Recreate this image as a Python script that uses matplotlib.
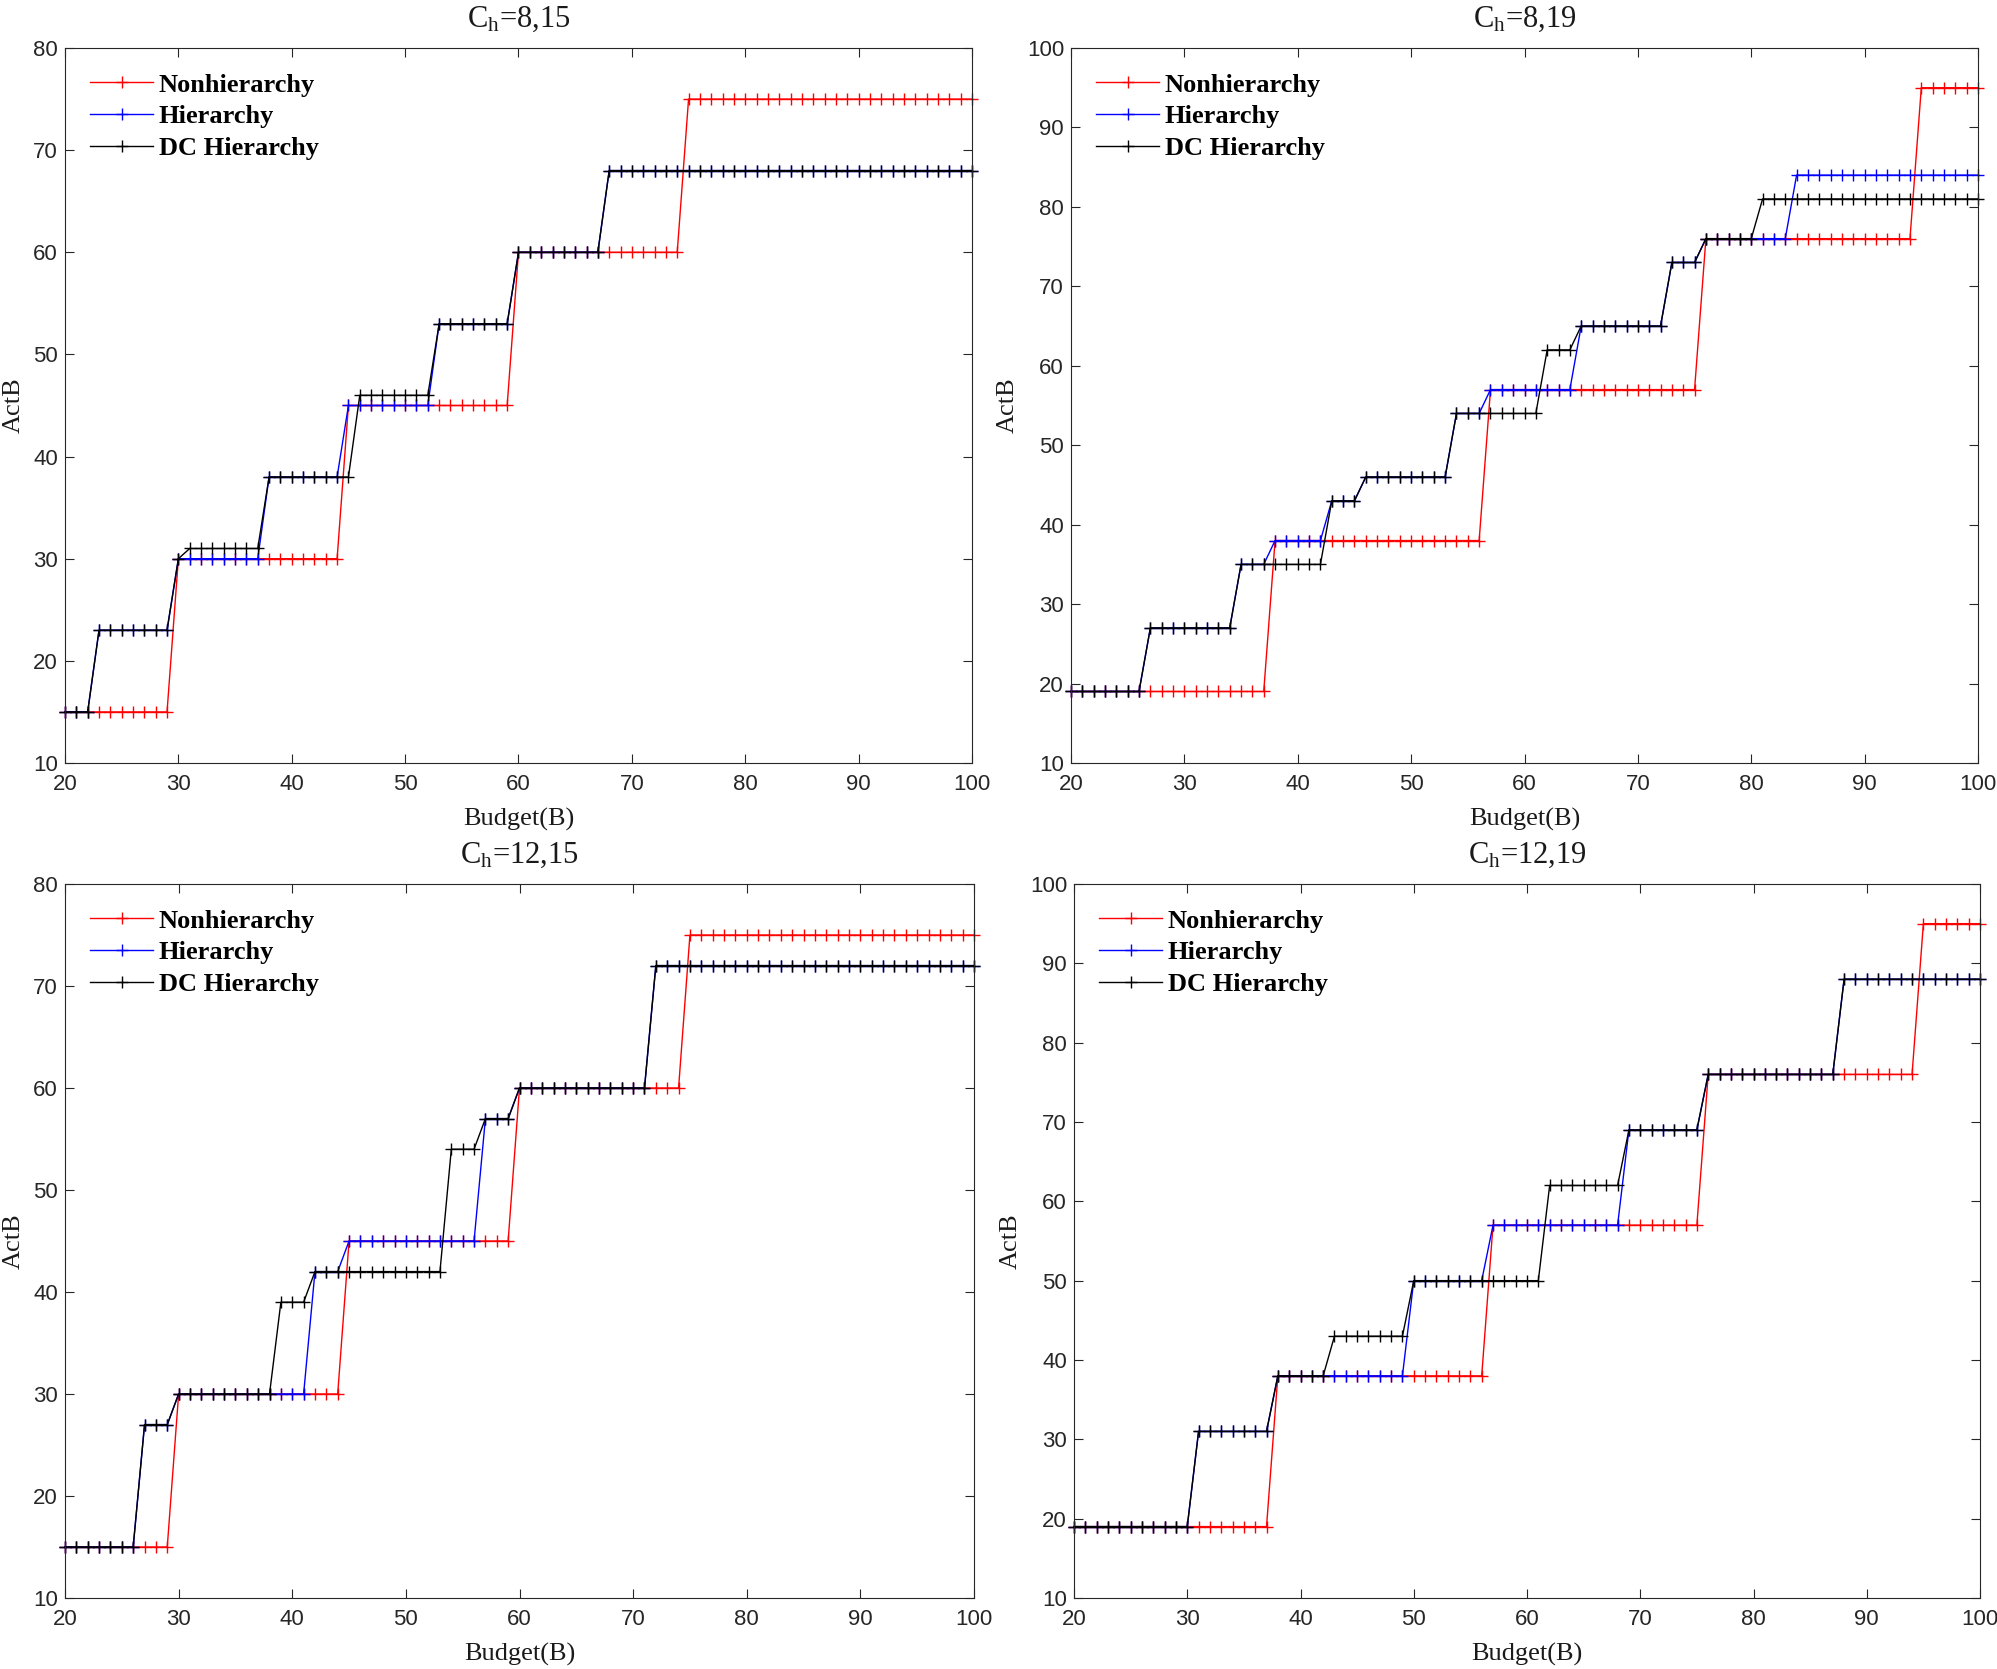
import numpy as np
import matplotlib
matplotlib.use('Agg')
import matplotlib.pyplot as plt

plt.rcParams['mathtext.fontset'] = 'custom'
plt.rcParams['mathtext.rm'] = 'Liberation Serif'
plt.rcParams['mathtext.it'] = 'Liberation Serif:italic'

budget = np.arange(20, 101)  # Budget(B) = 20..100

# each series stored as step levels + how many budget points stay on that level
# C_h = 8,15
p1_non_val = [15, 30, 45, 60, 75]
p1_non_cnt = [10, 15, 15, 15, 26]
p1_hie_val = [15, 23, 30, 38, 45, 53, 60, 68]
p1_hie_cnt = [3, 7, 8, 7, 8, 7, 8, 33]
p1_dc_val = [15, 23, 30, 31, 38, 46, 53, 60, 68]
p1_dc_cnt = [3, 7, 1, 7, 8, 7, 7, 8, 33]

# C_h = 8,19
p2_non_val = [19, 38, 57, 76, 95]
p2_non_cnt = [18, 19, 19, 19, 6]
p2_hie_val = [19, 27, 35, 38, 43, 46, 54, 57, 65, 73, 76, 84]
p2_hie_cnt = [7, 8, 3, 5, 3, 8, 3, 8, 8, 3, 8, 17]
p2_dc_val = [19, 27, 35, 43, 46, 54, 62, 65, 73, 76, 81]
p2_dc_cnt = [7, 8, 8, 3, 8, 8, 3, 8, 3, 5, 20]

# C_h = 12,15
p3_non_val = [15, 30, 45, 60, 75]
p3_non_cnt = [10, 15, 15, 15, 26]
p3_hie_val = [15, 27, 30, 42, 45, 57, 60, 72]
p3_hie_cnt = [7, 3, 12, 3, 12, 3, 12, 29]
p3_dc_val = [15, 27, 30, 39, 42, 54, 57, 60, 72]
p3_dc_cnt = [7, 3, 9, 3, 12, 3, 3, 12, 29]

# C_h = 12,19
p4_non_val = [19, 38, 57, 76, 95]
p4_non_cnt = [18, 19, 19, 19, 6]
p4_hie_val = [19, 31, 38, 50, 57, 69, 76, 88]
p4_hie_cnt = [11, 7, 12, 7, 12, 7, 12, 13]
p4_dc_val = [19, 31, 38, 43, 50, 62, 69, 76, 88]
p4_dc_cnt = [11, 7, 5, 7, 12, 7, 7, 12, 13]

titles = ['8,15', '8,19', '12,15', '12,19']
ymax = [80, 100, 80, 100]
labels = ['Nonhierarchy', 'Hierarchy', 'DC Hierarchy']
colors = ['#ff0000', '#0000ff', '#000000']

panels = [
    [(p1_non_val, p1_non_cnt), (p1_hie_val, p1_hie_cnt), (p1_dc_val, p1_dc_cnt)],
    [(p2_non_val, p2_non_cnt), (p2_hie_val, p2_hie_cnt), (p2_dc_val, p2_dc_cnt)],
    [(p3_non_val, p3_non_cnt), (p3_hie_val, p3_hie_cnt), (p3_dc_val, p3_dc_cnt)],
    [(p4_non_val, p4_non_cnt), (p4_hie_val, p4_hie_cnt), (p4_dc_val, p4_dc_cnt)],
]

W, H = 1997, 1669
fig = plt.figure(figsize=(W / 100, H / 100), dpi=100)

# axes boxes in pixels: left, top, right, bottom
boxes = [(65, 48, 972, 763), (1071, 48, 1978, 763),
         (65, 884, 974, 1598), (1074, 884, 1980, 1598)]

axc = '#262626'
for k in range(4):
    l, t, r, b = boxes[k]
    ax = fig.add_axes([l / W, 1 - b / H, (r - l) / W, (b - t) / H])
    for (vals, cnts), c, lab in zip(panels[k], colors, labels):
        y = np.repeat(vals, cnts)
        ax.plot(budget, y, color=c, lw=1.0, marker='+', ms=9, mew=1.0,
                label=lab, clip_on=False)
    ax.set_xlim(20, 100)
    ax.set_ylim(10, ymax[k])
    ax.set_xticks(np.arange(20, 101, 10))
    ax.set_yticks(np.arange(10, ymax[k] + 1, 10))
    ax.tick_params(direction='in', length=6.5, width=0.8, top=True, right=True,
                   colors=axc, labelsize=16)
    ax.tick_params(axis='x', pad=8)
    ax.tick_params(axis='y', pad=5)
    for lbl in ax.get_xticklabels() + ax.get_yticklabels():
        lbl.set_family('Liberation Sans')
    for s in ax.spines.values():
        s.set_color(axc)
        s.set_linewidth(0.8)
    ax.set_xlabel('Budget(B)', family='Liberation Serif', fontsize=19, labelpad=9, color='#1a1a1a')
    ax.set_ylabel('ActB', family='Liberation Serif', fontsize=19, labelpad=6, color='#1a1a1a')
    ax.set_title(r'C$_{\mathrm{h}}$=' + titles[k], family='Liberation Serif',
                 fontsize=22, pad=15, color='#1a1a1a')
    ax.legend(loc='upper left', frameon=False, handlelength=2.4, handletextpad=0.2,
              labelspacing=0.32, borderaxespad=0.55,
              prop={'family': 'Liberation Serif', 'weight': 'bold', 'size': 19})

fig.savefig('out.png', dpi=100, facecolor='white')
